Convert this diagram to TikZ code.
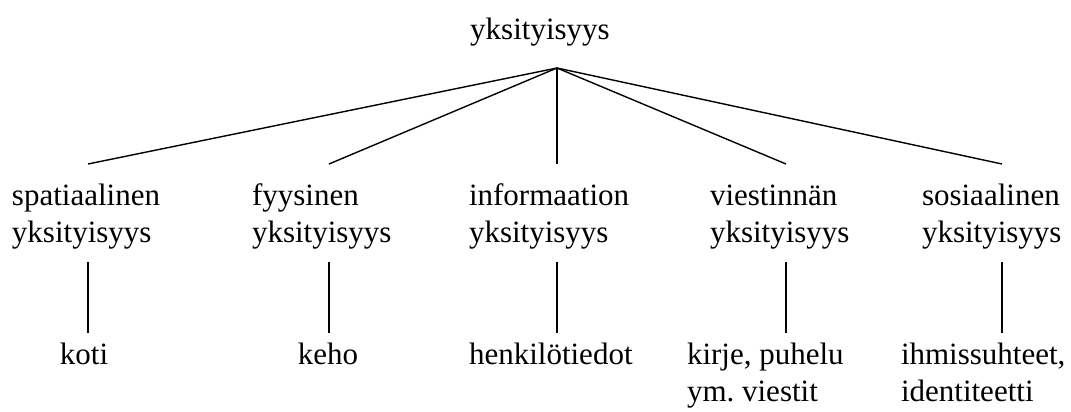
\documentclass[tikz,border=0pt]{standalone}
\usepackage{fontspec}
\setmainfont{Liberation Serif}
\frenchspacing
\begin{document}
\begin{tikzpicture}[x=1pt,y=-1pt,
  every node/.style={inner sep=0pt, outer sep=0pt, font=\fontsize{31}{37}\selectfont},
  lbl/.style={anchor=base west, align=left},
  conn/.style={line width=1.4pt, line cap=butt}]
\useasboundingbox (0,0) rectangle (1071,412);
% root
\node[anchor=base] (root) at (540,40) {yksityisyys};
\coordinate (apex) at (557,68);
% categories (anchor = baseline of the last line)
\node[lbl] (c1) at (12,242) {spatiaalinen\\yksityisyys};
\node[lbl] (c2) at (252,242) {fyysinen\\yksityisyys};
\node[lbl] (c3) at (469,242) {informaation\\yksityisyys};
\node[lbl] (c4) at (710,242) {viestinnän\\yksityisyys};
\node[lbl] (c5) at (922,242) {sosiaalinen\\yksityisyys};
% examples
\node[anchor=base] (e1) at (84,364) {koti};
\node[anchor=base] (e2) at (328,364) {keho};
\node[lbl] (e3) at (469,364) {henkilötiedot};
\node[lbl] (e4) at (687,401) {kirje, puhelu\\ym. viestit};
\node[lbl] (e5) at (901,401) {ihmissuhteet,\\identiteetti};
% connector end points
\foreach \i/\x in {1/88,2/329,3/557,4/786,5/1002}{
  \coordinate (t\i) at (\x,164);
  \coordinate (u\i) at (\x,262);
  \coordinate (v\i) at (\x,333);
}
\foreach \i in {1,...,5}{
  \draw[conn] (apex) -- (t\i);
  \draw[conn] (u\i) -- (v\i);
}
\end{tikzpicture}
\end{document}
